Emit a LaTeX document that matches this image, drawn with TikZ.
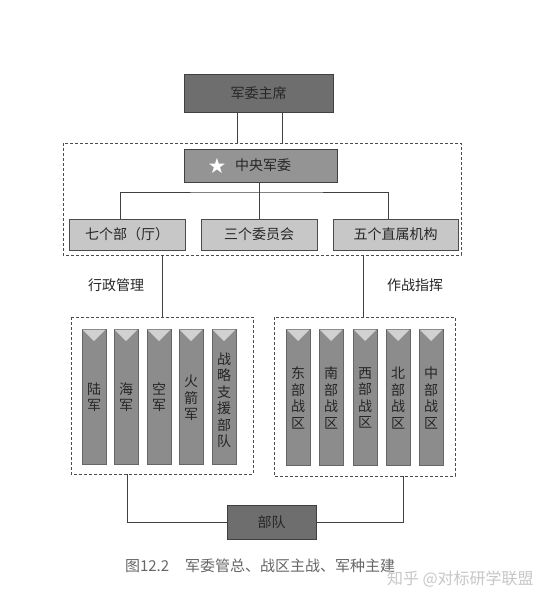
\documentclass[tikz,border=0pt]{standalone}
\usepackage{fontspec}
\setmainfont{Noto Sans CJK SC}
\newfontfamily\symfont{DejaVu Sans}
\begin{document}
\begin{tikzpicture}[x=1pt,y=-1pt,
  every node/.style={inner sep=0pt,outer sep=0pt},
  darkbox/.style={draw=black!75,line width=0.8pt,fill=black!57,font=\fontsize{14}{14}\selectfont,text=black!85},
  midbox/.style={draw=black!75,line width=0.8pt,fill=black!42,font=\fontsize{14}{14}\selectfont,text=black!85},
  lightbox/.style={draw=black!70,line width=0.8pt,fill=black!22,font=\fontsize{14}{14}\selectfont,text=black!85},
  bar/.style={draw=black!60,line width=0.6pt,fill=black!45},
  tri/.style={fill=black!18,draw=none},
  vtext/.style={font=\fontsize{14}{16.5}\selectfont,text=black!85,align=center},
  dashbox/.style={draw=black!70,dashed,line width=0.6pt,dash pattern=on 3pt off 2pt},
  conn/.style={draw=black!75,line width=0.8pt},
  lbl/.style={font=\fontsize{14}{14}\selectfont,text=black!85}
]
\useasboundingbox (0,0) rectangle (554,602);
\fill[white] (0,0) rectangle (554,602);

% top box
\node[darkbox,minimum width=149pt,minimum height=38pt] (chair) at (258.5,93) {军委主席};

% dashed group top
\draw[dashbox] (63,143) rectangle (461,255);
\coordinate (dt1) at (237,143);
\coordinate (dt2) at (282,143);
\draw[conn] (chair.south -| dt1) -- (dt1);
\draw[conn] (chair.south -| dt2) -- (dt2);

\node[midbox,minimum width=153pt,minimum height=33pt] (cmc) at (260.5,165.5) {\hspace*{5pt}中央军委};
\node[text=white,font=\symfont\fontsize{21}{21}\selectfont] (star) at (217,165.5) {★};

\node[lightbox,minimum width=116pt,minimum height=31pt] (qg) at (127,234.5) {七个部（厅）};
\node[lightbox,minimum width=116pt,minimum height=31pt] (sw) at (259,234.5) {三个委员会};
\node[lightbox,minimum width=125pt,minimum height=31pt] (wz) at (395.5,234.5) {五个直属机构};

\coordinate (hb) at (259,192);
\draw[conn] (cmc.south -| hb) -- (hb);
\draw[conn] (qg.north -| 120,0) |- (hb) -| (wz.north -| 388,0);
\draw[conn] (hb) -- (sw.north);

% labels
\node[lbl] (xz) at (116,285) {行政管理};
\node[lbl] (zz) at (415,285) {作战指挥};

% lower dashed boxes
\draw[dashbox] (71,317) rectangle (253,474);
\draw[dashbox] (274,317) rectangle (455,476);
\coordinate (l1) at (162,317);
\coordinate (r1) at (363,317);
\draw[conn] (l1 |- 0,255) -- (l1);
\draw[conn] (r1 |- 0,255) -- (r1);

% bars left
\foreach \x in {82,114,147,179,212}{
  \draw[bar] (\x,329) rectangle ++(24,135);
  \fill[tri] (\x+0.5,329.5) -- (\x+23.5,329.5) -- (\x+12,341) -- cycle;
}
\node[vtext] (b1) at (94,397) {陆\\军};
\node[vtext] (b2) at (126,397) {海\\军};
\node[vtext] (b3) at (159,397) {空\\军};
\node[vtext] (b4) at (191,398) {火\\箭\\军};
\node[vtext] (b5) at (224,400) {战\\略\\支\\援\\部\\队};

% bars right
\foreach \x in {286,319,353,386,419}{
  \draw[bar] (\x,329) rectangle ++(24,136);
  \fill[tri] (\x+0.5,329.5) -- (\x+23.5,329.5) -- (\x+12,341) -- cycle;
}
\node[vtext] (c1) at (298,398) {东\\部\\战\\区};
\node[vtext] (c2) at (331,398) {南\\部\\战\\区};
\node[vtext] (c3) at (365,398) {西\\部\\战\\区};
\node[vtext] (c4) at (398,398) {北\\部\\战\\区};
\node[vtext] (c5) at (431,398) {中\\部\\战\\区};

% bottom
\node[darkbox,minimum width=89pt,minimum height=34pt] (bd) at (271.5,522) {部队};
\coordinate (bl) at (127,474);
\coordinate (br) at (403,476);
\draw[conn] (bl) |- (bd.west);
\draw[conn] (br) |- (bd.east);

% caption
\node[anchor=west,font=\fontsize{15}{15}\selectfont,text=black!60] (cap) at (125,566) {图12.2\hspace{16pt}军委管总、战区主战、军种主建};
\node[anchor=west,font=\fontsize{16}{16}\selectfont,text=black!22] (wm) at (387,579) {知乎 @对标研学联盟};
\end{tikzpicture}
\end{document}
